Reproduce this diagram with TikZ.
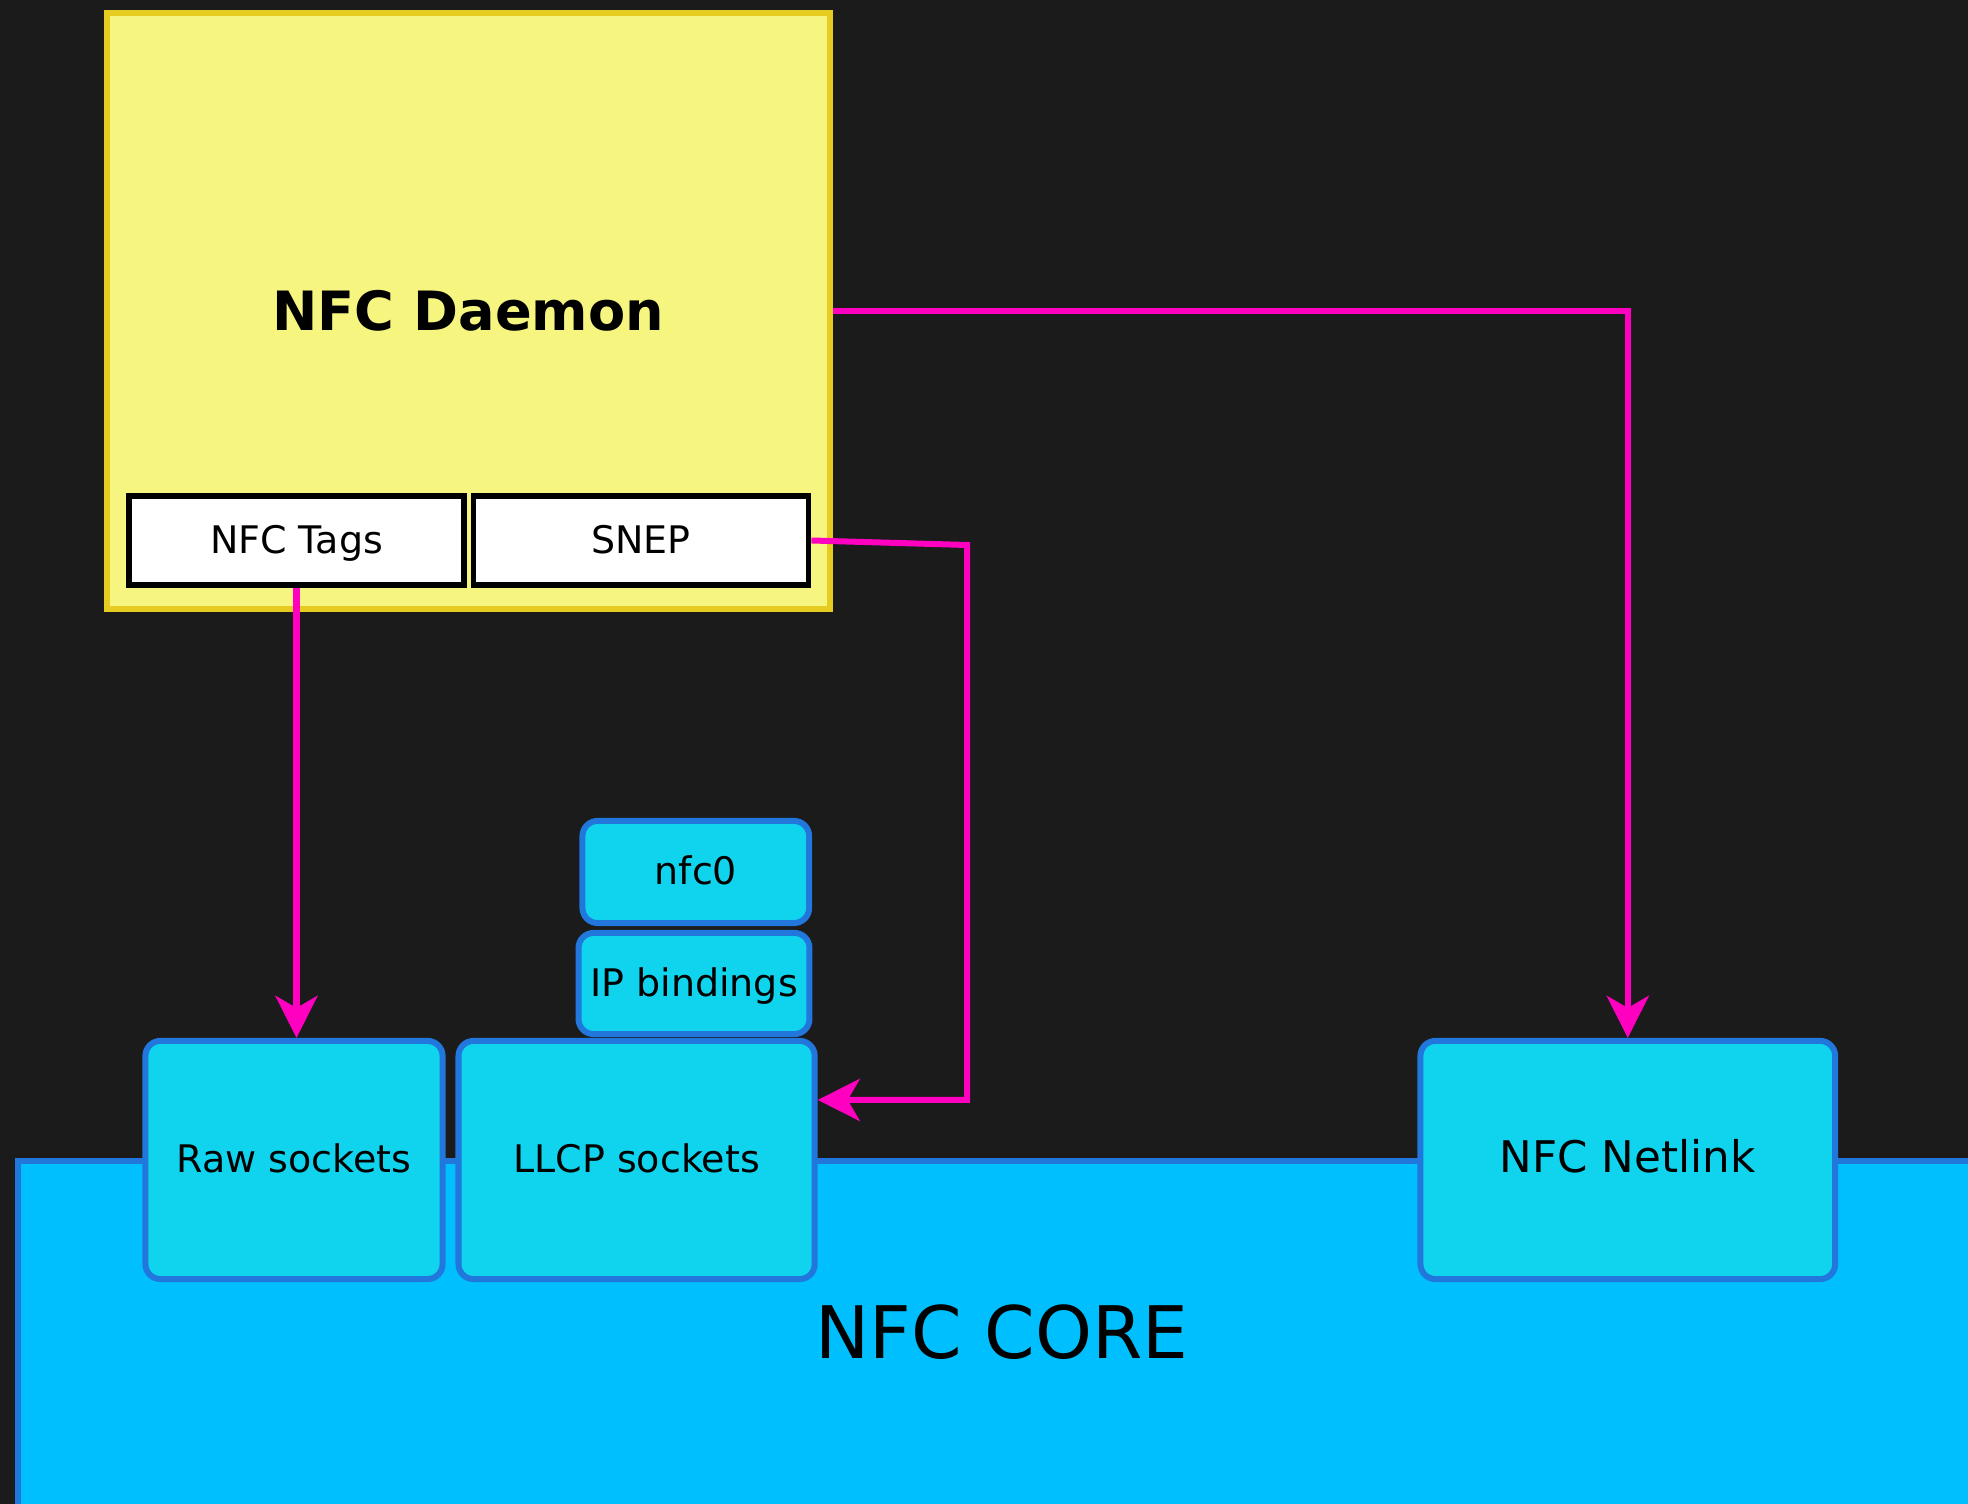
\documentclass[tikz,border=0pt]{standalone}
\usepackage{fontspec}
\setmainfont{DejaVu Sans}
\usetikzlibrary{arrows.meta}
\usetikzlibrary{positioning}
\definecolor{bgdark}{HTML}{1B1B1B}
\definecolor{daemonfill}{HTML}{F6F57F}
\definecolor{daemonline}{HTML}{E6CB20}
\definecolor{boxfill}{HTML}{10D4EE}
\definecolor{boxline}{HTML}{2277DD}
\definecolor{corefill}{HTML}{00BFFF}
\definecolor{linkpink}{HTML}{FF00C0}
\tikzset{
  daemonbox/.style={draw=daemonline,fill=daemonfill,line width=0.06cm,minimum width=7.227cm,minimum height=5.957cm,font=\bfseries\fontsize{15.4}{18}\selectfont},
  protobox/.style={draw=black,fill=white,line width=0.057cm,minimum width=3.35cm,minimum height=0.89cm,text height=0.73em,text depth=0pt,font=\fontsize{10.8}{13}\selectfont},
  kernbox/.style={draw=boxline,fill=boxfill,line width=0.06cm,rounded corners=0.15cm,text height=0.73em,text depth=0pt,font=\fontsize{10.8}{13}\selectfont},
  link/.style={draw=linkpink,line width=0.06cm,-{Stealth[length=0.42cm,width=0.42cm,inset=0.12cm]}}
}
\begin{document}
\begin{tikzpicture}[x=0.01cm,y=-0.01cm]
\useasboundingbox (0,0) rectangle (1968,1504);
\clip (0,0) rectangle (1968,1504);
\fill[bgdark] (0,0) rectangle (1968,1504);
\draw[fill=corefill,draw=boxline,line width=0.06cm] (18,1160.7) rectangle (2050,1600);
\node[font=\fontsize{20.6}{24}\selectfont] (core) at (1002,1332) {NFC CORE};

\node[daemonbox] (daemon) at (468.3,310.8) {NFC Daemon};
\node[protobox] (tags) at (296.5,540.5) {NFC Tags};
\node[protobox,right=0.036cm of tags] (snep) {SNEP};

\node[kernbox,minimum width=2.265cm,minimum height=1.02cm] (nfc) at (695.8,872) {nfc0};
\node[kernbox,minimum width=2.3cm,minimum height=1.01cm] (ipb) at (694,983.5) {IP bindings};
\node[kernbox,minimum width=2.97cm,minimum height=2.38cm] (raw) at (294,1160) {Raw sockets};
\node[kernbox,minimum width=3.56cm,minimum height=2.38cm] (llcp) at (636.6,1160) {LLCP sockets};
\node[kernbox,minimum width=4.145cm,minimum height=2.38cm,font=\fontsize{12.4}{15}\selectfont] (netlink) at (1627.8,1160) {NFC Netlink};

\coordinate (snepbend) at (967,545);
\coordinate (llcpin) at ([yshift=0.6cm]llcp.east);
\draw[link] (tags.south) -- (tags.south |- raw.north);
\draw[link] (snep.east) -- (snepbend) -- (snepbend |- llcpin) -- (llcpin);
\draw[link] (daemon.east) -- (daemon.east -| netlink.north) -- (netlink.north);
\end{tikzpicture}
\end{document}
